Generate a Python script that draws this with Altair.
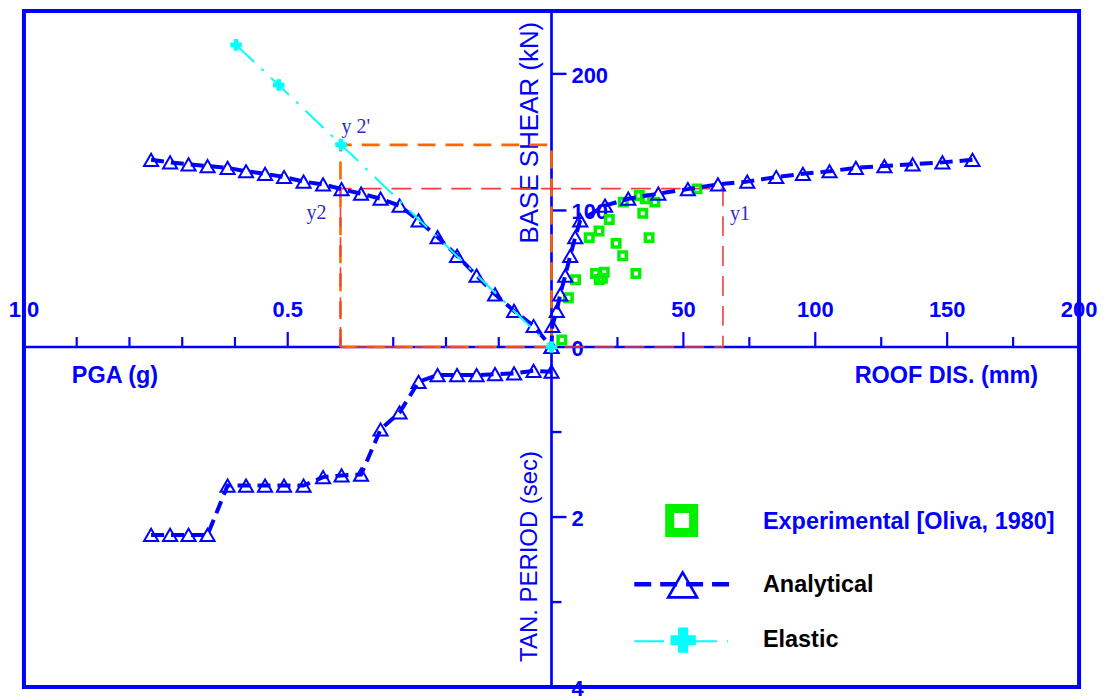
import altair as alt
import pandas as pd

# ---------------- values ----------------
# analytical pushover steps (same step index in every quadrant)
PGA = [0.759, 0.723, 0.688, 0.652, 0.614, 0.579, 0.543, 0.507, 0.470, 0.433, 0.398,
       0.361, 0.324, 0.288, 0.252, 0.216, 0.179, 0.142, 0.107, 0.071, 0.034, 0.0]
BASE_SHEAR = [137.1, 135.2, 133.8, 132.5, 131.2, 128.7, 126.8, 124.5, 121.1, 119.1, 115.6,
              112.3, 108.6, 103.5, 92.7, 80.5, 66.8, 52.2, 38.6, 26.4, 15.4, 0.0]
ROOF_DIS = [159.6, 148.2, 136.9, 126.2, 115.4, 105.4, 95.3, 85.2, 74.2, 63.1, 51.7,
            40.5, 29.1, 20.3, 10.9, 9.0, 7.1, 5.2, 3.3, 2.0, 0.3, 0.0]
TAN_PERIOD = [2.21, 2.21, 2.21, 2.21, 1.63, 1.63, 1.63, 1.63, 1.63, 1.53, 1.51,
              1.50, 0.97, 0.77, 0.41, 0.33, 0.33, 0.33, 0.32, 0.31, 0.28, 0.29]

# experimental points [Oliva, 1980]
EXP_DIS = [3.9, 6.4, 9.1, 14.3, 18.0, 21.9, 27.2, 24.5, 27.0, 16.7, 18.1, 20.0, 19.3,
           32.0, 34.6, 37.0, 33.3, 35.5, 39.2, 55.2]
EXP_SHEAR = [5.1, 36.0, 49.3, 80.1, 84.9, 93.4, 106.1, 75.9, 66.8, 53.8, 49.4, 54.7, 50.4,
             53.8, 98.0, 80.1, 111.0, 108.5, 106.1, 115.8]

# elastic line
ELASTIC_PGA = [0.598, 0.517, 0.399, 0.0]
ELASTIC_SHEAR = [221.2, 191.8, 148.2, 0.0]

# reference construction lines
REF_PGA = 0.4
Y2P_SHEAR = 148.0
Y2_SHEAR = 116.0
Y1_DIS = 65.0

# axis ticks / labels
PGA_MAJOR = [1.0, 0.5]
PGA_MINOR = [0.1, 0.2, 0.3, 0.4, 0.6, 0.7, 0.8, 0.9]
PGA_LABELS = ["1.0", "0.5"]
DIS_MAJOR = [50, 100, 150, 200]
DIS_MINOR = [25, 75, 125, 175]
DIS_LABELS = ["50", "100", "150", "200"]
SHEAR_TICKS = [100, 200]
SHEAR_LABEL_VALUES = [0, 100, 200]
PERIOD_MAJOR = [2, 4]
PERIOD_MINOR = [1, 3]
PERIOD_LABELS = ["2", "4"]

LEGEND_LABELS = ["Experimental [Oliva, 1980]", "Analytical", "Elastic"]

# full-scale value of each half axis
PGA_FULL, DIS_FULL, SHEAR_FULL, PERIOD_FULL = 1.0, 200.0, 249.0, 4.0

# ---------------- styling ----------------
BLUE = "#0000ff"
CYAN = "#00ffff"
GREEN = "#00f000"
ORANGE = "#ff6600"
RED = "#f23c3c"
ANN = "#2a2ad0"
SANS = "Liberation Sans, Arial, sans-serif"
SERIF = "Liberation Serif, Times New Roman, serif"

W, H = 1058, 678
HALF_H = 341
xscale = alt.Scale(domain=[-1, 1], nice=False, zero=False)
yscale = alt.Scale(domain=[-1, H / HALF_H - 1], nice=False, zero=False)
X = alt.X("u:Q", scale=xscale, axis=None)
Y = alt.Y("v:Q", scale=yscale, axis=None)

U_LEFT = f"-datum.pga / {PGA_FULL}"
U_RIGHT = f"datum.dis / {DIS_FULL}"
U_SIDE = f"datum.side == 'L' ? -datum.x / {PGA_FULL} : datum.x / {DIS_FULL}"
V_UP = f"datum.shear / {SHEAR_FULL}"
V_DOWN = f"-datum.period / {PERIOD_FULL}"

n = len(PGA)
ana = pd.DataFrame({"i": list(range(n)), "pga": PGA, "shear": BASE_SHEAR,
                    "dis": ROOF_DIS, "period": TAN_PERIOD})
exp = pd.DataFrame({"dis": EXP_DIS, "shear": EXP_SHEAR})
ela = pd.DataFrame({"i": list(range(len(ELASTIC_PGA))), "pga": ELASTIC_PGA,
                    "shear": ELASTIC_SHEAR})

ref_orange = pd.DataFrame({
    "i": [0, 1, 2, 3, 4],
    "side": ["L"] * 5,
    "x": [REF_PGA, REF_PGA, 0.0, 0.0, REF_PGA],
    "shear": [0.0, Y2P_SHEAR, Y2P_SHEAR, 0.0, 0.0],
})
ref_red = pd.DataFrame({
    "i": [0, 1, 2, 3, 4],
    "side": ["L", "L", "R", "R", "L"],
    "x": [REF_PGA, REF_PGA, Y1_DIS, Y1_DIS, REF_PGA],
    "shear": [0.0, Y2_SHEAR, Y2_SHEAR, 0.0, 0.0],
})

layers = []

# axes lines through the centre
layers.append(alt.Chart(pd.DataFrame({"v": [0.0]})).mark_rule(
    color=BLUE, strokeWidth=2.6).encode(y=Y))
layers.append(alt.Chart(pd.DataFrame({"u": [0.0]})).mark_rule(
    color=BLUE, strokeWidth=2.7).encode(x=X))

# horizontal ticks
xt_major = pd.DataFrame({"side": ["L"] * len(PGA_MAJOR) + ["R"] * len(DIS_MAJOR),
                         "x": PGA_MAJOR + DIS_MAJOR, "v": 0.0})
xt_minor = pd.DataFrame({"side": ["L"] * len(PGA_MINOR) + ["R"] * len(DIS_MINOR),
                         "x": PGA_MINOR + DIS_MINOR, "v": 0.0})
layers.append(alt.Chart(xt_major).transform_calculate(u=U_SIDE).mark_tick(
    orient="vertical", size=15, thickness=2.2, yOffset=-7.5, color=BLUE, opacity=1
).encode(x=X, y=Y))
layers.append(alt.Chart(xt_minor).transform_calculate(u=U_SIDE).mark_tick(
    orient="vertical", size=10, thickness=2.2, yOffset=-5, color=BLUE, opacity=1
).encode(x=X, y=Y))

# vertical ticks
yt_major = pd.DataFrame({"kind": ["S"] * len(SHEAR_TICKS) + ["P"] * len(PERIOD_MAJOR),
                         "val": SHEAR_TICKS + PERIOD_MAJOR, "u": 0.0})
yt_minor = pd.DataFrame({"kind": ["P"] * len(PERIOD_MINOR), "val": PERIOD_MINOR, "u": 0.0})
V_KIND = f"datum.kind == 'S' ? datum.val / {SHEAR_FULL} : -datum.val / {PERIOD_FULL}"
layers.append(alt.Chart(yt_major).transform_calculate(v=V_KIND).mark_tick(
    orient="horizontal", size=15, thickness=2.4, xOffset=7.5, color=BLUE, opacity=1
).encode(x=X, y=Y))
layers.append(alt.Chart(yt_minor).transform_calculate(v=V_KIND).mark_tick(
    orient="horizontal", size=10, thickness=2.4, xOffset=5, color=BLUE, opacity=1
).encode(x=X, y=Y))

# tick labels
xl = pd.DataFrame({"side": ["L"] * len(PGA_MAJOR) + ["R"] * len(DIS_MAJOR),
                   "x": PGA_MAJOR + DIS_MAJOR, "lab": PGA_LABELS + DIS_LABELS, "v": 0.0})
layers.append(alt.Chart(xl).transform_calculate(u=U_SIDE).mark_text(
    font=SANS, fontSize=22, fontWeight="bold", color=BLUE, align="center",
    baseline="middle", dy=-37
).encode(x=X, y=Y, text="lab:N"))
yl = pd.DataFrame({"kind": ["S"] * len(SHEAR_LABEL_VALUES) + ["P"] * len(PERIOD_MAJOR),
                   "val": SHEAR_LABEL_VALUES + PERIOD_MAJOR,
                   "lab": [str(s) for s in SHEAR_LABEL_VALUES] + PERIOD_LABELS, "u": 0.0})
layers.append(alt.Chart(yl).transform_calculate(v=V_KIND).mark_text(
    font=SANS, fontSize=22, fontWeight="bold", color=BLUE, align="left",
    baseline="middle", dx=20, dy=2
).encode(x=X, y=Y, text="lab:N"))

# axis titles
one = pd.DataFrame({"k": [0]})
layers.append(alt.Chart(one).mark_text(
    text="PGA (g)", font=SANS, fontSize=23.5, fontWeight="bold", color=BLUE,
    align="left", baseline="alphabetic").encode(x=alt.value(48), y=alt.value(373)))
layers.append(alt.Chart(one).mark_text(
    text="ROOF DIS. (mm)", font=SANS, fontSize=23.5, fontWeight="bold", color=BLUE,
    align="left", baseline="alphabetic").encode(x=alt.value(833), y=alt.value(373)))
layers.append(alt.Chart(one).mark_text(
    text="BASE SHEAR (kN)", font=SANS, fontSize=26, color=BLUE, angle=270,
    align="center", baseline="middle").encode(x=alt.value(507), y=alt.value(122)))
layers.append(alt.Chart(one).mark_text(
    text="TAN. PERIOD (sec)", font=SANS, fontSize=24, color=BLUE, angle=270,
    align="center", baseline="middle").encode(x=alt.value(507), y=alt.value(547)))

# reference construction lines
layers.append(alt.Chart(ref_orange).transform_calculate(u=U_SIDE, v=V_UP).mark_line(
    color=ORANGE, strokeWidth=2.6, strokeDash=[18, 10]).encode(x=X, y=Y, order="i:Q"))
layers.append(alt.Chart(ref_red).transform_calculate(u=U_SIDE, v=V_UP).mark_line(
    color=RED, strokeWidth=1.6, strokeDash=[20, 10]).encode(x=X, y=Y, order="i:Q"))

# experimental squares
layers.append(alt.Chart(exp).transform_calculate(u=U_RIGHT, v=V_UP).mark_point(
    shape="square", size=56, filled=False, strokeWidth=3.5, color=GREEN, opacity=1
).encode(x=X, y=Y))

# analytical curves
for uexpr, vexpr in [(U_LEFT, V_UP), (U_RIGHT, V_UP), (U_LEFT, V_DOWN)]:
    base = alt.Chart(ana).transform_calculate(u=uexpr, v=vexpr)
    layers.append(base.mark_line(color=BLUE, strokeWidth=4, strokeDash=[13, 7]).encode(
        x=X, y=Y, order="i:Q"))
    layers.append(base.mark_point(shape="triangle-up", size=200, filled=False,
                                  strokeWidth=2, color=BLUE, opacity=1).encode(x=X, y=Y))

# elastic line
eb = alt.Chart(ela).transform_calculate(u=U_LEFT, v=V_UP)
layers.append(eb.mark_line(color=CYAN, strokeWidth=2, strokeDash=[25, 10, 3, 10]).encode(
    x=X, y=Y, order="i:Q"))
layers.append(eb.mark_point(shape="cross", size=135, filled=True, color=CYAN, opacity=1
                            ).encode(x=X, y=Y))

# annotations
ann = pd.DataFrame({
    "side": ["L", "L", "R"],
    "x": [REF_PGA, REF_PGA, Y1_DIS],
    "shear": [Y2P_SHEAR, Y2_SHEAR, Y2_SHEAR],
    "lab": ["y 2'", "y2", "y1"],
})
annb = alt.Chart(ann).transform_calculate(u=U_SIDE, v=V_UP)
layers.append(annb.transform_filter("datum.lab == \"y 2'\"").mark_text(
    font=SERIF, fontSize=20, color=ANN, align="left", baseline="middle", dx=1, dy=-18
).encode(x=X, y=Y, text="lab:N"))
layers.append(annb.transform_filter("datum.lab == 'y2'").mark_text(
    font=SERIF, fontSize=20, color=ANN, align="right", baseline="middle", dx=-14, dy=24
).encode(x=X, y=Y, text="lab:N"))
layers.append(annb.transform_filter("datum.lab == 'y1'").mark_text(
    font=SERIF, fontSize=20, color=ANN, align="left", baseline="middle", dx=7, dy=25
).encode(x=X, y=Y, text="lab:N"))

# legend (drawn by hand)
layers.append(alt.Chart(one).mark_point(
    shape="square", size=576, filled=False, strokeWidth=9, color=GREEN, opacity=1
).encode(x=alt.value(659.5), y=alt.value(511)))
layers.append(alt.Chart(one).mark_rule(
    color=BLUE, strokeWidth=4.5, strokeDash=[17, 9]
).encode(x=alt.value(612), x2=alt.value(709), y=alt.value(575)))
layers.append(alt.Chart(one).mark_point(
    shape="triangle-up", size=841, filled=False, strokeWidth=2.6, color=BLUE, opacity=1
).encode(x=alt.value(660.5), y=alt.value(575.5)))
layers.append(alt.Chart(one).mark_rule(
    color=CYAN, strokeWidth=2, strokeDash=[30, 10, 3, 10]
).encode(x=alt.value(612), x2=alt.value(706), y=alt.value(632)))
layers.append(alt.Chart(one).mark_point(
    shape="cross", size=642, filled=True, color=CYAN, opacity=1
).encode(x=alt.value(661), y=alt.value(631)))
for lab, ly, col in zip(LEGEND_LABELS, [512, 576, 631], [BLUE, "#000000", "#000000"]):
    layers.append(alt.Chart(pd.DataFrame({"lab": [lab]})).mark_text(
        font=SANS, fontSize=23.5, fontWeight="bold", color=col, align="left",
        baseline="middle").encode(x=alt.value(741), y=alt.value(ly), text="lab:N"))

chart = alt.layer(*layers).properties(
    width=W, height=H,
    padding={"left": 16, "top": 2, "right": 20, "bottom": 9},
    autosize=alt.AutoSizeParams(type="none"),
).configure_view(stroke=BLUE, strokeWidth=4)

chart.save("out.html", embed_options={"renderer": "svg", "actions": False})
